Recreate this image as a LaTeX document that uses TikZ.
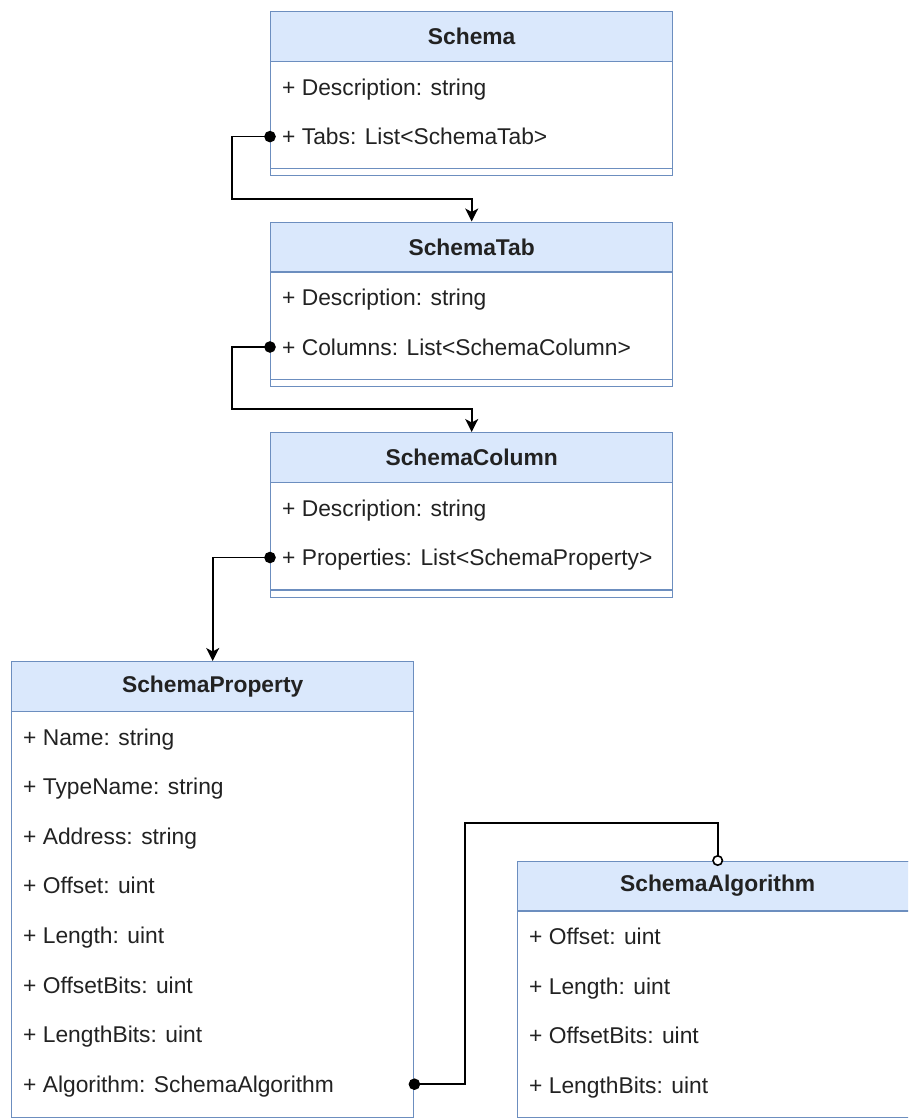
\documentclass[tikz,border=0pt]{standalone}
\usepackage{fontspec}
\setmainfont{Liberation Sans}
\usetikzlibrary{arrows.meta}
\definecolor{umlfill}{HTML}{DAE8FC}
\definecolor{umlstroke}{HTML}{6C8EBF}
\definecolor{txt}{HTML}{222222}
\tikzset{
  classbody/.style={draw=umlstroke, line width=1.4pt, fill=white, anchor=north west, inner sep=0pt, minimum width=#1},
  classhead/.style={draw=umlstroke, line width=1.4pt, fill=umlfill, anchor=north west, inner sep=0pt,
    minimum width=#1, minimum height=49.6pt, text=txt, font=\fontsize{22.8}{26}\selectfont\bfseries},
  row/.style={anchor=west, inner sep=0pt, text height=16.3pt, text depth=0pt, text=txt,
    font=\fontsize{22.8}{26}\selectfont},
  sepline/.style={draw=umlstroke, line width=1.4pt},
  conn/.style={draw=black, line width=1.6pt},
  comp/.style={conn, {Circle[length=11.5pt]}-{Stealth[length=13pt,width=13pt,inset=3.5pt]}, shorten <=-5.75pt},
  agg/.style={conn, {Circle[length=11.5pt]}-{Circle[open,length=11pt,fill=white]}, shorten <=-5.75pt, shorten >=-5.5pt}
}
\begin{document}
\begin{tikzpicture}[x=1pt,y=-1pt]
\useasboundingbox (0,0) rectangle (908,1118);
\clip (0,0) rectangle (908,1118);

% Schema
\node[classbody=402pt, minimum height=164pt] (schema) at (270,11) {};
\node[classhead=402pt] (schemaH) at (270,11) {Schema};
\node[row] (schemaDesc) at (282,87) {+ Description: string};
\node[row] (schemaTabs) at (282,136.6) {+ Tabs: List<SchemaTab>};
\draw[sepline] ([yshift=8pt]schema.south west) -- ([yshift=8pt]schema.south east);

% SchemaTab
\node[classbody=402pt, minimum height=164.5pt] (tab) at (270,221.5) {};
\node[classhead=402pt] (tabH) at (270,221.5) {SchemaTab};
\node[row] (tabDesc) at (282,297.5) {+ Description: string};
\node[row] (tabCols) at (282,347) {+ Columns: List<SchemaColumn>};
\draw[sepline] ([yshift=8pt]tab.south west) -- ([yshift=8pt]tab.south east);

% SchemaColumn
\node[classbody=402pt, minimum height=164.5pt] (col) at (270,432) {};
\node[classhead=402pt] (colH) at (270,432) {SchemaColumn};
\node[row] (colDesc) at (282,508) {+ Description: string};
\node[row] (colProps) at (282,557.5) {+ Properties: List<SchemaProperty>};
\draw[sepline] ([yshift=8pt]col.south west) -- ([yshift=8pt]col.south east);

% SchemaProperty
\node[classbody=402pt, minimum height=455.5pt] (prop) at (11,661) {};
\node[classhead=402pt] (propH) at (11,661) {SchemaProperty};
\node[row] (pName) at (23,737) {+ Name: string};
\node[row] (pType) at (23,786.6) {+ TypeName: string};
\node[row] (pAddr) at (23,836.2) {+ Address: string};
\node[row] (pOff) at (23,885.8) {+ Offset: uint};
\node[row] (pLen) at (23,935.4) {+ Length: uint};
\node[row] (pOffB) at (23,985) {+ OffsetBits: uint};
\node[row] (pLenB) at (23,1034.6) {+ LengthBits: uint};
\node[row] (pAlg) at (23,1084.2) {+ Algorithm: SchemaAlgorithm};

% SchemaAlgorithm
\node[classbody=400pt, minimum height=256pt] (alg) at (517,860.5) {};
\node[classhead=400pt] (algH) at (517,860.5) {SchemaAlgorithm};
\node[row] (aOff) at (529,936.5) {+ Offset: uint};
\node[row] (aLen) at (529,986) {+ Length: uint};
\node[row] (aOffB) at (529,1035.5) {+ OffsetBits: uint};
\node[row] (aLenB) at (529,1085) {+ LengthBits: uint};

% connectors
\coordinate (k1) at (232,199);
\coordinate (k2) at (232,409);
\coordinate (k4) at (465,823);
\draw[comp] (schemaTabs -| schema.west) -| (k1) -| (tabH.north);
\draw[comp] (tabCols -| tab.west) -| (k2) -| (colH.north);
\draw[comp] (colProps -| col.west) -| (propH.north);
\draw[agg] (pAlg -| prop.east) -| (k4) -| (algH.north);
\end{tikzpicture}
\end{document}
